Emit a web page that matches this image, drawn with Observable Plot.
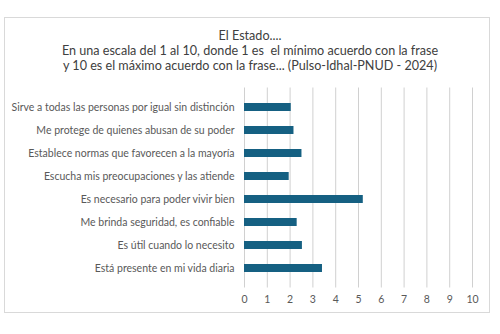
<!DOCTYPE html>
<html><head><meta charset="utf-8">
<script src="https://cdn.jsdelivr.net/npm/d3@7"></script>
<script src="https://cdn.jsdelivr.net/npm/@observablehq/plot@0.6"></script>
<style>
html,body{margin:0;padding:0;background:#fff;}
#wrap{position:relative;width:500px;height:334px;overflow:hidden;font-family:Lato,"Open Sans",sans-serif;}
#box{position:absolute;left:4px;top:17px;width:486px;height:296px;border:1px solid #d9d9d9;box-sizing:border-box;}
#title{position:absolute;left:0;top:28px;width:500px;text-align:center;font-size:12.6px;line-height:15px;color:#404040;}
#chart{position:absolute;left:0;top:80px;}
</style></head>
<body><div id="wrap"><div id="box"></div>
<div id="title">El Estado....<br>En una escala del 1 al 10, donde 1 es&nbsp; el mínimo acuerdo con la frase<br>y 10 es el máximo acuerdo con la frase... (Pulso-Idhal-PNUD - 2024)</div>
<div id="chart"></div></div>
<script>
const categories = [
  "Sirve a todas las personas por igual sin distinción",
  "Me protege de quienes abusan de su poder",
  "Establece normas que favorecen a la mayoría",
  "Escucha mis preocupaciones y las atiende",
  "Es necesario para poder vivir bien",
  "Me brinda seguridad, es confiable",
  "Es útil cuando lo necesito",
  "Está presente en mi vida diaria"
];
const values = [2.05, 2.17, 2.52, 1.96, 5.21, 2.31, 2.54, 3.42];
const xTicks = [0,1,2,3,4,5,6,7,8,9,10];
const data = categories.map((c,i)=>({cat:c, v:values[i]}));
const chart = Plot.plot({
  width: 500, height: 230,
  marginLeft: 244, marginRight: 28, marginTop: 7.5, marginBottom: 22.5,
  style: {fontFamily: "Lato, 'Open Sans', sans-serif", fontSize: "10.5px", color: "#595959", background: "transparent"},
  x: {domain: [0,10], ticks: xTicks, label: null, tickSize: 0, tickPadding: 8, grid: true},
  y: {domain: categories, label: null, padding: 0.64, tickSize: 0, tickPadding: 10},
  marks: [
    Plot.barX(data, {x: "v", y: "cat", fill: "#156082"})
  ]
});
document.getElementById("chart").appendChild(chart);
d3.select(chart).selectAll("[aria-label='x-grid'] line, [aria-label='x-grid'] path, .tick line").attr("stroke", "#d0d0d0").attr("stroke-opacity", 1);
</script></body></html>
